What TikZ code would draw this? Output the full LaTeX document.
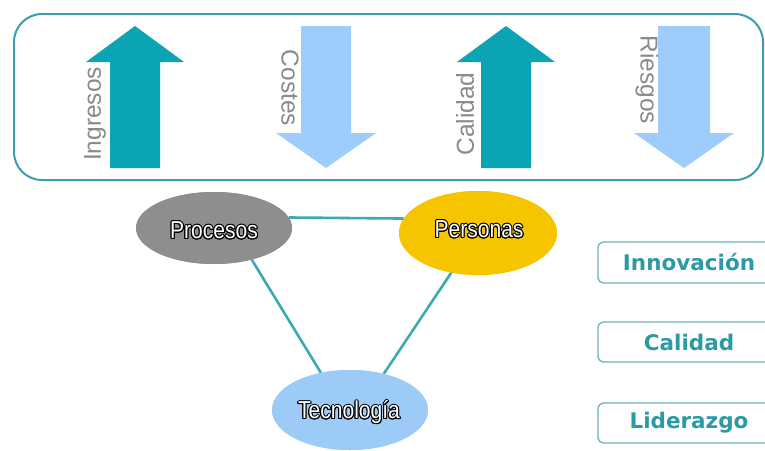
\documentclass[tikz,border=0pt]{standalone}
\usepackage{fontspec}
\setmainfont{Liberation Sans}
\newfontfamily\lblfont{Liberation Sans}
\newfontfamily\ovalfont[FakeStretch=0.86]{Liberation Sans}
\newfontfamily\boxfont{DejaVu Sans}
\usepackage{contour}
\contourlength{1pt}
\usetikzlibrary{shapes.geometric}

\definecolor{frameteal}{HTML}{3A9FA9}
\definecolor{arrowteal}{HTML}{0AA4B5}
\definecolor{arrowblue}{HTML}{9ECDFB}
\definecolor{lblgray}{HTML}{8A8A8A}
\definecolor{procgray}{HTML}{8E8E8E}
\definecolor{persyellow}{HTML}{F6C500}
\definecolor{tecblue}{HTML}{9DCBF7}
\definecolor{linkteal}{HTML}{3AABB3}
\definecolor{boxedge}{HTML}{6AB3B9}
\definecolor{boxtext}{HTML}{2B9AA5}

\tikzset{
  upshape/.style={fill=arrowteal},
  downshape/.style={fill=arrowblue},
  arrlabel/.style={text=lblgray, font=\lblfont\fontsize{24.5}{24.5}\selectfont, inner sep=0pt},
  oval/.style={ellipse, inner sep=0pt},
  ovaltext/.style={text=white, inner sep=0pt, font=\ovalfont\fontsize{24.5}{24.5}\selectfont},
  link/.style={draw=linkteal, line width=2.6pt},
  sidebox/.style={draw=boxedge, line width=1.3pt, rounded corners=6pt,
    minimum width=182pt, inner sep=0pt, text=boxtext,
    font=\boxfont\bfseries\fontsize{21.5}{21.5}\selectfont}
}

\begin{document}
\begin{tikzpicture}[x=1pt,y=-1pt]
\clip (0,0) rectangle (765,450);
\fill[white] (0,0) rectangle (765,450);

% frame round the four trend arrows
\draw[frameteal, line width=2pt, rounded corners=28pt] (14,14) rectangle (763,180);

% trend arrows
\path[upshape, shift={(135,0)}] (-25,168) -- (-25,62) -- (-49,62) -- (0,26) -- (49,62) -- (25,62) -- (25,168) -- cycle;
\path[downshape, shift={(326,0)}] (-25,26) -- (-25,133) -- (-50,133) -- (0,168) -- (50,133) -- (25,133) -- (25,26) -- cycle;
\path[upshape, shift={(506,0)}] (-25,168) -- (-25,62) -- (-49,62) -- (0,26) -- (49,62) -- (25,62) -- (25,168) -- cycle;
\path[downshape, shift={(684,0)}] (-26,26) -- (-26,133) -- (-50,133) -- (0,168) -- (50,133) -- (26,133) -- (26,26) -- cycle;

\node[arrlabel, rotate=90]  (ingresos) at (95,114)  {Ingresos};
\node[arrlabel, rotate=-90] (costes)   at (290,88)  {Costes};
\node[arrlabel, rotate=90]  (calidadA) at (465,114) {Calidad};
\node[arrlabel, rotate=-90] (riesgos)  at (647,80)  {Riesgos};

% three pillars and their links
\node[oval, fill=procgray, minimum width=156pt, minimum height=72pt] (proc) at (214,228) {};
\node[oval, fill=persyellow, minimum width=158pt, minimum height=84pt] (pers) at (478,233) {};
\node[oval, fill=tecblue, minimum width=156pt, minimum height=80pt] (tec) at (350,410) {};

\draw[link] (proc.8) -- (pers.169);
\draw[link] (proc.-40) -- (tec.128);
\draw[link] (pers.-124) -- (tec.47);

% ovals repainted over the link ends
\fill[procgray] (proc.center) ellipse [x radius=78, y radius=36];
\fill[persyellow] (pers.center) ellipse [x radius=79, y radius=42];
\fill[tecblue] (tec.center) ellipse [x radius=78, y radius=40];

\node[ovaltext] (proctext) at (214,231) {\contour{black}{Procesos}};
\node[ovaltext] (perstext) at (479,230) {\contour{black}{Personas}};
\node[ovaltext] (tectext) at (349,413) {\contour{black}{Tecnología}};

% side labels
\node[sidebox, minimum height=41pt] (innov) at (689,262.5) {Innovación};
\node[sidebox, minimum height=40pt] (calidadB) at (689,342) {Calidad};
\node[sidebox, minimum height=40pt] (lider) at (689,423) {Liderazgo};
\end{tikzpicture}
\end{document}
